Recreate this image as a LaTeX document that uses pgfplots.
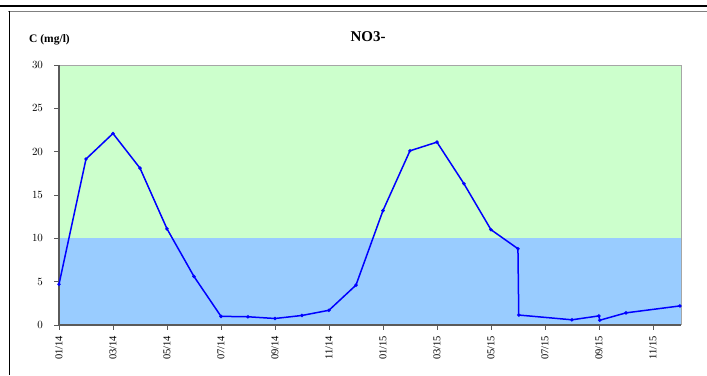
\documentclass[border=0pt]{standalone}
\usepackage{fontspec}
\setmainfont{Liberation Serif}
\usepackage{pgfplots}
\pgfplotsset{compat=1.18}
\definecolor{bgGreen}{HTML}{CCFFCC}
\definecolor{bgBlue}{HTML}{99CCFF}
\definecolor{axGray}{HTML}{5A5A5A}
\begin{document}
\begin{tikzpicture}
\useasboundingbox (0pt,0pt) rectangle (707pt,375pt);
\draw[black,line width=1.6pt] (0pt,369pt) -- (707pt,369pt);
\draw[gray,line width=1.4pt] (8pt,363.5pt) -- (707pt,363.5pt);
\draw[black,line width=1.2pt] (9.3pt,364pt) -- (9.3pt,0pt);
\node[font=\bfseries\fontsize{15}{17}\selectfont] at (368pt,338pt) {NO3-};
\node[font=\bfseries\fontsize{11.5}{13}\selectfont] at (49.5pt,335pt) {C (mg/l)};
\begin{axis}[
  at={(59pt,50pt)}, anchor=south west,
  scale only axis, width=622pt, height=260pt,
  xmin=0, xmax=23.04, ymin=0, ymax=30,
  axis line style={draw=none},
  xtick={0,2,4,6,8,10,12,14,16,18,20,22},
  xticklabels={01/14,03/14,05/14,07/14,09/14,11/14,01/15,03/15,05/15,07/15,09/15,11/15},
  x tick label style={rotate=90,anchor=east,font=\fontsize{10.5}{12}\selectfont},
  xticklabel shift=3pt,
  ytick={0,5,10,15,20,25,30},
  y tick label style={font=\fontsize{11}{12}\selectfont},
  yticklabel shift=8pt,
  tick align=outside, tick pos=left,
  major tick length=4.5pt,
  tick style={axGray,line width=0.8pt},
  clip=false,
]
\fill[bgGreen] (axis cs:0,10) rectangle (axis cs:23.04,30);
\fill[bgBlue] (axis cs:0,0) rectangle (axis cs:23.04,10);
\draw[gray!70,line width=0.8pt] (axis cs:0,30) -- (axis cs:23.04,30) -- (axis cs:23.04,0);
\draw[axGray,line width=1.5pt] (axis cs:0,30) -- (axis cs:0,0) -- (axis cs:23.04,0);
\addplot[blue,line width=1.5pt,mark=*,mark size=0.9pt] coordinates {
(0,4.7) (1,19.15) (2,22.1) (3,18.1) (4,11.1) (5,5.6) (6,1.0) (7,0.95)
(8,0.75) (9,1.1) (10,1.7) (11,4.6) (12,13.2) (13,20.1) (14,21.1)
(15,16.3) (16,11.0) (17,8.8) (17.03,1.15) (19,0.6) (20,1.05) (20.03,0.55)
(21,1.4) (23,2.2)
};
\end{axis}
\end{tikzpicture}
\end{document}
